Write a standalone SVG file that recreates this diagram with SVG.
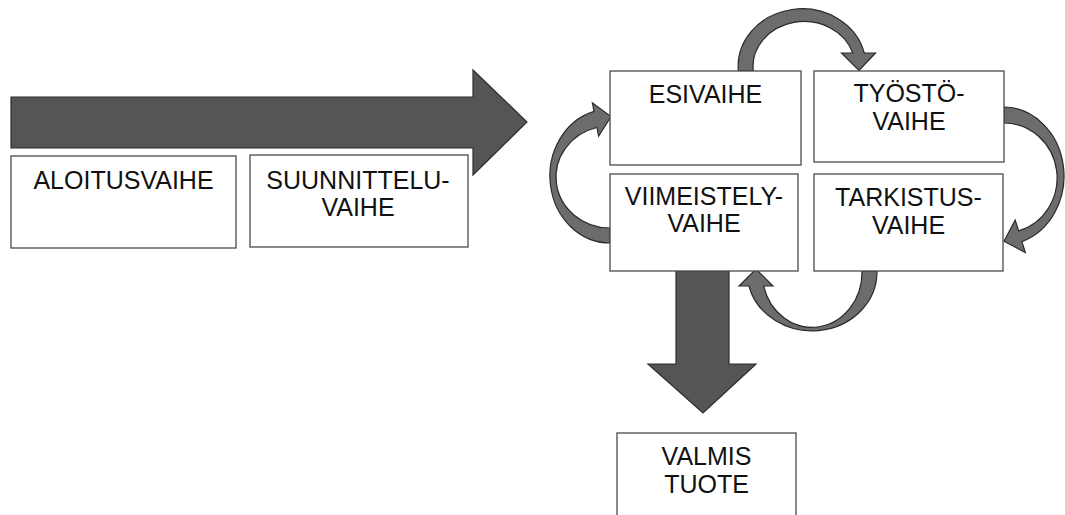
<svg xmlns="http://www.w3.org/2000/svg" width="1065" height="515" viewBox="0 0 1065 515">
<style>
.box{fill:#fff;stroke:#4a4a4a;stroke-width:1.3}
.big{fill:#555;stroke:#2e2e2e;stroke-width:1.2;stroke-linejoin:miter}
.cur{fill:#6c6c6c;stroke:#2a2a2a;stroke-width:1.2;stroke-linejoin:miter}
.t{font-family:"Liberation Sans",Arial,sans-serif;font-size:25px;fill:#111;text-anchor:middle}
</style>
<rect width="1065" height="515" fill="#fff"/>
<g id="connectors">
<polygon class="big" points="11,97 473,97 473,70 527,122 473,175 473,148 11,148"/>
<polygon class="big" points="676,271 729,271 729,364 756,364 703,413 648,364 676,364"/>
<path class="cur" d="M 738.3,71 A 64 58 0 0 1 864.3,53 L 875.5,53 L 859,70.5 L 841.5,53 L 852.7,53 A 51 45 0 0 0 753.3,71 Z"/>
<path class="cur" d="M 1004,107 A 61 69 0 0 1 1021.9,241.6 L 1025.3,252.5 L 1004,241.3 L 1015.2,220 L 1018.6,230.9 A 53 55 0 0 0 1004,123 Z"/>
<path class="cur" d="M 877,271 A 65 59 0 0 1 748.9,286 L 739,286 L 756,269 L 773,286 L 763.6,286 A 50 55 0 0 0 862,271 Z"/>
<path class="cur" d="M 610,243 A 60 67 0 0 1 594,111.4 L 592.4,102.8 L 611,116.6 L 598.6,136.2 L 597,127.5 A 54 51 0 0 0 610,228 Z"/>
</g>
<g id="aloitusvaihe">
<rect class="box" x="11" y="156" width="225" height="92"/>
<text class="t" x="123.5" y="189">ALOITUSVAIHE</text>
</g>
<g id="suunnitteluvaihe">
<rect class="box" x="250" y="155" width="218" height="92"/>
<text class="t" x="358" y="189">SUUNNITTELU-</text>
<text class="t" x="358" y="216">VAIHE</text>
</g>
<g id="esivaihe">
<rect class="box" x="610" y="71" width="191" height="94"/>
<text class="t" x="705.5" y="103">ESIVAIHE</text>
</g>
<g id="tyostovaihe">
<rect class="box" x="814" y="71" width="190" height="91"/>
<text class="t" x="909" y="102">TYÖSTÖ-</text>
<text class="t" x="909" y="130">VAIHE</text>
</g>
<g id="viimeistelyvaihe">
<rect class="box" x="610" y="174" width="188" height="97"/>
<text class="t" x="704" y="205">VIIMEISTELY-</text>
<text class="t" x="704" y="232">VAIHE</text>
</g>
<g id="tarkistusvaihe">
<rect class="box" x="814" y="174" width="189" height="97"/>
<text class="t" x="908.5" y="206">TARKISTUS-</text>
<text class="t" x="908.5" y="234">VAIHE</text>
</g>
<g id="valmistuote">
<rect class="box" x="617" y="433" width="179" height="100"/>
<text class="t" x="706.5" y="465">VALMIS</text>
<text class="t" x="706.5" y="493">TUOTE</text>
</g>
</svg>
